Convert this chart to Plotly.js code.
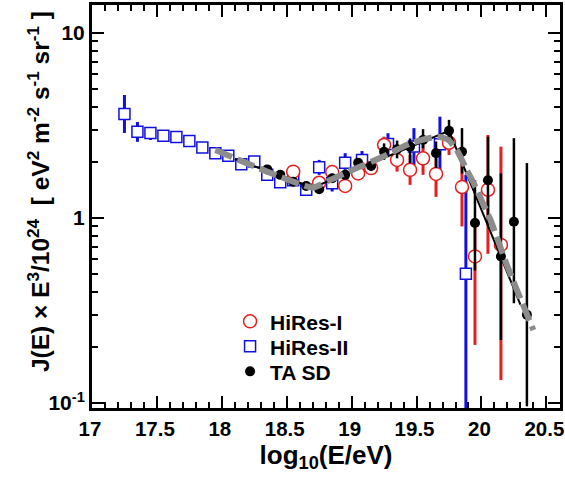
<!DOCTYPE html>
<html>
<head>
<meta charset="utf-8">
<script src="https://cdn.plot.ly/plotly-3.0.1.min.js"></script>
<style>html,body{margin:0;padding:0;background:#fff;}#chart{width:565px;height:485px;}</style>
</head>
<body>
<div id="chart"></div>
<script>
// HiRes-I (red open circles)
var hr1X = [18.55, 18.75, 18.85, 18.95, 19.05, 19.15, 19.25, 19.35, 19.45, 19.55, 19.65, 19.75, 19.85, 19.95, 20.05, 20.15];
var hr1Y = [1.78, 1.55, 1.77, 1.49, 1.74, 1.86, 2.48, 2.06, 1.82, 2.10, 1.73, 2.55, 1.47, 0.62, 1.42, 0.715];
var hr1Up = [1.86, 1.63, 1.86, 1.57, 1.84, 1.98, 2.75, 2.45, 2.19, 2.48, 2.10, 2.90, 2.00, 1.00, 2.81, 2.43];
var hr1Lo = [1.70, 1.47, 1.68, 1.41, 1.62, 1.74, 2.24, 1.78, 1.51, 1.71, 1.30, 2.19, 0.90, 0.206, 0.64, 0.133];

// HiRes-II (blue open squares)
var hr2X = [17.25, 17.35, 17.45, 17.55, 17.65, 17.75, 17.85, 17.95, 18.05, 18.15, 18.25, 18.35, 18.45, 18.55, 18.65, 18.75, 18.85, 18.95, 19.08, 19.28, 19.48, 19.68, 19.88];
var hr2Y = [3.65, 2.92, 2.88, 2.78, 2.74, 2.61, 2.40, 2.24, 2.17, 1.95, 2.02, 1.71, 1.56, 1.60, 1.42, 1.88, 1.54, 1.99, 2.06, 2.51, 2.43, 2.50, 0.50];
var hr2Up = [4.62, 3.30, 3.10, 2.92, 2.80, 2.67, 2.46, 2.29, 2.22, 2.00, 2.07, 1.76, 1.62, 1.67, 1.52, 2.06, 1.64, 2.24, 2.30, 2.87, 3.06, 3.53, 1.71];
var hr2Lo = [2.88, 2.58, 2.64, 2.64, 2.68, 2.55, 2.34, 2.19, 2.12, 1.90, 1.97, 1.66, 1.50, 1.52, 1.35, 1.71, 1.39, 1.82, 1.85, 2.19, 1.93, 1.71, 0.05];

// TA SD (black dots)
var taX = [18.35, 18.45, 18.55, 18.65, 18.75, 18.85, 18.95, 19.05, 19.15, 19.25, 19.35, 19.45, 19.55, 19.65, 19.75, 19.85, 19.95, 20.05, 20.15, 20.25, 20.35];
var taY = [1.83, 1.71, 1.57, 1.49, 1.43, 1.64, 1.71, 1.99, 1.91, 2.28, 2.35, 2.43, 2.64, 2.24, 2.96, 2.28, 0.94, 1.60, 0.62, 0.955, 0.30];
var taUp = [1.88, 1.76, 1.62, 1.54, 1.48, 1.70, 1.78, 2.08, 2.02, 2.53, 2.62, 2.69, 3.02, 2.59, 3.39, 3.06, 1.60, 2.75, 1.74, 2.70, 1.98];
var taLo = [1.78, 1.66, 1.52, 1.44, 1.38, 1.58, 1.64, 1.90, 1.80, 2.06, 2.10, 1.98, 2.38, 1.86, 2.64, 1.74, 0.52, 0.92, 0.219, 0.346, 0.096];

// Fits
var taFitX = [18.1, 18.7, 19.75, 20.3];
var taFitY = [2.08, 1.46, 2.96, 0.34];
var hrFitX = [17.95, 18.35, 18.7, 18.83, 19.04, 19.24, 19.45, 19.655, 19.745, 19.81, 19.886, 19.94, 20.07, 20.19, 20.40];
var hrFitY = [2.33, 1.78, 1.46, 1.60, 1.86, 2.14, 2.53, 2.75, 2.64, 2.33, 1.82, 1.54, 0.975, 0.57, 0.248];

var xTicks = [17, 17.5, 18, 18.5, 19, 19.5, 20, 20.5];
var yTickVals = [0.1, 1, 10];
var yTickText = ['10<sup>-1</sup>', '1', '10'];

function plus(y, up) { return y.map(function (v, i) { return up[i] - v; }); }
function minus(y, lo) { return y.map(function (v, i) { return v - lo[i]; }); }

var RED = '#e3201f', BLUE = '#1010e0';
var FAM = 'Arial, Liberation Sans, sans-serif';

var traces = [
  {
    x: hr2X, y: hr2Y, type: 'scatter', mode: 'markers', name: 'HiRes-II', legend: 'legend2',
    marker: { symbol: 'square', size: 11, color: 'white', line: { color: BLUE, width: 1.5 } },
    error_y: { type: 'data', symmetric: false, array: plus(hr2Y, hr2Up), arrayminus: minus(hr2Y, hr2Lo), color: BLUE, thickness: 3, width: 0 }
  },
  {
    x: hr1X, y: hr1Y, type: 'scatter', mode: 'markers', name: 'HiRes-I', legend: 'legend',
    marker: { symbol: 'circle', size: 13, color: 'white', line: { color: RED, width: 1.5 } },
    error_y: { type: 'data', symmetric: false, array: plus(hr1Y, hr1Up), arrayminus: minus(hr1Y, hr1Lo), color: RED, thickness: 3, width: 0 }
  },
  {
    x: taX, y: taY, type: 'scatter', mode: 'markers', name: 'TA SD', legend: 'legend3',
    marker: { symbol: 'circle', size: 10, color: 'black' },
    error_y: { type: 'data', symmetric: false, array: plus(taY, taUp), arrayminus: minus(taY, taLo), color: 'black', thickness: 2.5, width: 0 }
  },
  {
    x: taFitX, y: taFitY, type: 'scatter', mode: 'lines', showlegend: false, hoverinfo: 'skip',
    line: { color: 'black', width: 2 }
  },
  {
    x: hrFitX, y: hrFitY, type: 'scatter', mode: 'lines', showlegend: false, hoverinfo: 'skip',
    line: { color: '#8c8c8c', width: 6, dash: '18px,6px', shape: 'spline', smoothing: 0.5 }
  }
];

var minorY = [];
[0.1, 1].forEach(function (d) { for (var k = 2; k <= 9; k++) minorY.push(d * k); });

var xTickF = { family: FAM, size: 20.5, color: 'black', weight: 'bold' };
var yTickF = { family: FAM, size: 21, color: 'black', weight: 'bold' };
var legF = { family: FAM, size: 21, color: 'black', weight: 'bold' };
function leg(yc) {
  return { x: 0.295, y: yc, xanchor: 'left', yanchor: 'middle', bgcolor: 'rgba(0,0,0,0)', font: legF, itemwidth: 30 };
}

var layout = {
  width: 565, height: 485,
  margin: { l: 92, r: 5, t: 5, b: 77 },
  paper_bgcolor: 'white', plot_bgcolor: 'white',
  showlegend: true,
  legend: leg(0.2141),
  legend2: leg(0.1521),
  legend3: leg(0.0901),
  xaxis: {
    range: [17, 20.605], tickmode: 'array', tickvals: xTicks, ticktext: xTicks.map(String),
    ticks: 'inside', ticklen: 12, tickwidth: 2, tickcolor: 'black', ticklabelshift: -2,
    minor: { ticks: 'inside', ticklen: 6, tickwidth: 2, tickcolor: 'black', tickmode: 'linear', tick0: 17, dtick: 0.1 },
    showline: true, linewidth: 3, linecolor: 'black', mirror: 'allticks',
    showgrid: false, zeroline: false, tickfont: xTickF,
    title: { text: 'log<sub>10</sub>(E/eV)', font: { family: FAM, size: 26, color: 'black', weight: 'bold' }, standoff: 6 }
  },
  yaxis: {
    type: 'log', range: [-1.027, 1.151], tickmode: 'array', tickvals: yTickVals, ticktext: yTickText,
    ticks: 'inside', ticklen: 12, tickwidth: 2, tickcolor: 'black',
    minor: { ticks: 'inside', ticklen: 6, tickwidth: 2, tickcolor: 'black', tickmode: 'array', tickvals: minorY },
    showline: true, linewidth: 3, linecolor: 'black', mirror: 'allticks',
    showgrid: false, zeroline: false, tickfont: yTickF
  },
  annotations: [{
    xref: 'paper', yref: 'paper', x: -0.113, y: 0.536, xanchor: 'center', yanchor: 'middle',
    textangle: -90, showarrow: false,
    text: 'J(E) × E<sup>3</sup>/10<sup>24</sup>  [ eV<sup>2</sup> m<sup>-2</sup> s<sup>-1</sup> sr<sup>-1</sup> ]',
    font: { family: FAM, size: 24.5, color: 'black', weight: 'bold' }
  }]
};

Plotly.newPlot('chart', traces, layout, { displayModeBar: false, staticPlot: true });
</script>
</body>
</html>
